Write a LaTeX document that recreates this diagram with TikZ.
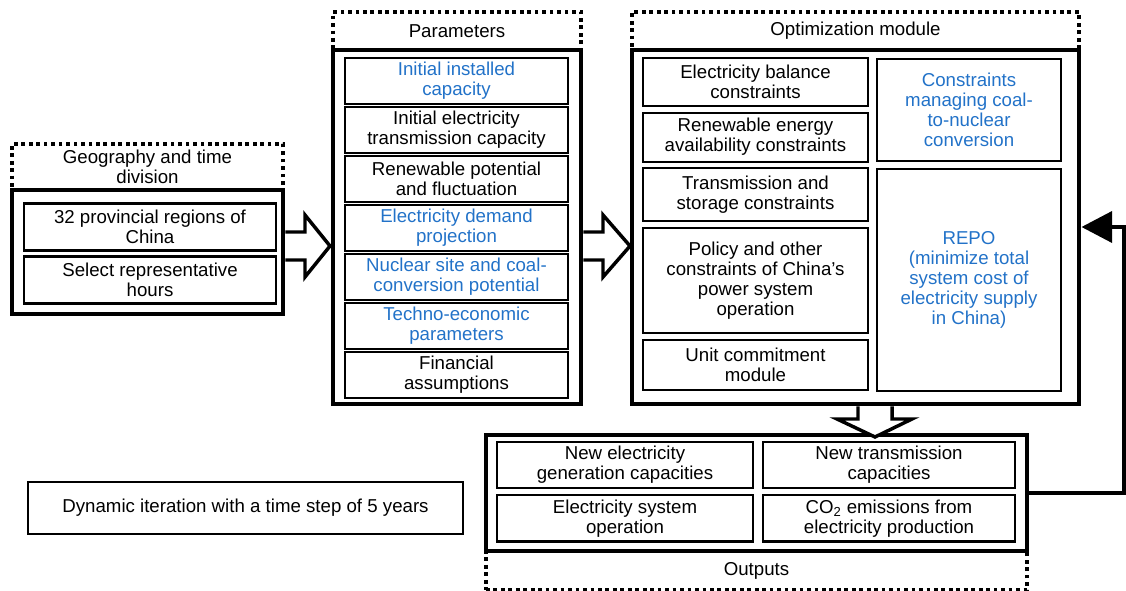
\documentclass[tikz,border=0pt]{standalone}
\usepackage{fontspec}
\setmainfont{Liberation Sans}
\usepackage{xcolor}
\usetikzlibrary{positioning,fit,arrows.meta}
\definecolor{bluetxt}{RGB}{34,114,200}
\tikzset{
  hdr/.style={draw, line width=2.6pt, dash pattern=on 2.8pt off 2.8pt,
              inner sep=0pt, outer sep=0pt, align=center},
  frame/.style={draw, line width=3.6pt, inner sep=0pt},
  item/.style={draw, line width=1.6pt, inner sep=1pt, outer sep=0pt, align=center},
  paritem/.style={item, minimum width=167.25pt, minimum height=34.5pt},
  geoitem/.style={item, minimum width=189pt, minimum height=35.25pt},
  optitem/.style={item, minimum width=168.75pt},
  optside/.style={item, minimum width=138pt},
  outitem/.style={item, minimum height=34.75pt},
  hi/.style={text=bluetxt},
  barrow/.style={draw, line width=2.6pt, fill=white, line join=miter},
  fb/.style={line width=3.6pt, -{Triangle[length=23pt, width=23pt]}}
}

\begin{document}
\begin{tikzpicture}[x=0.75pt, y=-0.75pt, font=\fontsize{14}{15}\selectfont,
                    node distance=2.3pt]
  \useasboundingbox (0,0) rectangle (1126,591);

  % geography
  \node[hdr, minimum width=203.25pt, minimum height=34.5pt] (geohdr) at (147.5,167)
    {Geography and time\\division};
  \node[frame, fit={(12,190) (283,314)}] (geobox) {};
  \node[geoitem] (g1) at (150,227) {32 provincial regions of\\China};
  \node[geoitem, below=4.5pt of g1] (g2) {Select representative\\hours};

  % parameters
  \node[hdr, minimum width=186pt, minimum height=28.5pt] (parhdr) at (457,31) {Parameters};
  \node[frame, fit={(333,50) (581,404)}] (parbox) {};
  \node[paritem, hi] (p1) at (456.5,80.7) {Initial installed\\capacity};
  \node[paritem, below=of p1] (p2) {Initial electricity\\transmission capacity};
  \node[paritem, below=of p2] (p3) {Renewable potential\\and fluctuation};
  \node[paritem, hi, below=of p3] (p4) {Electricity demand\\projection};
  \node[paritem, hi, below=of p4] (p5) {Nuclear site and coal-\\conversion potential};
  \node[paritem, hi, below=of p5] (p6) {Techno-economic\\parameters};
  \node[paritem, below=of p6] (p7) {Financial\\assumptions};

  % optimization module
  \node[hdr, minimum width=335.25pt, minimum height=28.5pt] (opthdr) at (855.5,31)
    {Optimization module};
  \node[frame, fit={(632,50) (1079,404)}] (optbox) {};
  \node[optitem, minimum height=36pt] (o1) at (755.5,82) {Electricity balance\\constraints};
  \node[optitem, minimum height=36.75pt, below=5pt of o1] (o2) {Renewable energy\\availability constraints};
  \node[optitem, minimum height=39.75pt, below=5pt of o2] (o3) {Transmission and\\storage constraints};
  \node[optitem, minimum height=78.75pt, below=5pt of o3] (o4) {Policy and other\\constraints of China's\\power system\\operation};
  \node[optitem, minimum height=37.5pt, below=5pt of o4] (o5) {Unit commitment\\module};
  \node[optside, hi, minimum height=76.5pt] (c1) at (969,110) {Constraints\\managing coal-\\to-nuclear\\conversion};
  \node[optside, hi, minimum height=166.5pt, below=6pt of c1] (c2) {REPO\\(minimize total\\system cost of\\electricity supply\\in China)};

  % outputs
  \node[hdr, minimum width=405.75pt, minimum height=29.25pt] (outhdr) at (756.5,570.5) {Outputs};
  \node[frame, fit={(486,435) (1027,551)}] (outbox) {};
  \node[outitem, minimum width=192pt] (n1) at (625,465) {New electricity\\generation capacities};
  \node[outitem, minimum width=189pt, right=7.5pt of n1] (n2) {New transmission\\capacities};
  \node[outitem, minimum width=192pt, below=5.25pt of n1] (n3) {Electricity system\\operation};
  \node[outitem, minimum width=189pt, right=7.5pt of n3] (n4) {CO\textsubscript{2} emissions from\\electricity production};

  \node[draw, line width=1.2pt, minimum width=326.25pt, minimum height=39pt] (dyn) at (245.5,508)
    {Dynamic iteration with a time step of 5 years};

  % block arrows
  \draw[barrow] (geobox.east |- 0,232) -- (305,232) -- (305,215) -- (330,246)
    -- (305,277) -- (305,260) -- (geobox.east |- 0,260);
  \draw[barrow] (parbox.east |- 0,232) -- (603,232) -- (603,215) -- (630,246)
    -- (603,277) -- (603,260) -- (parbox.east |- 0,260);
  \draw[barrow] (optbox.south -| 858,0) -- (858,419) -- (837,419) -- (875,437)
    -- (912,419) -- (892,419) -- (optbox.south -| 892,0);

  % feedback
  \draw[fb] (outbox.east) -- ++(95,0) |- (optbox.east);
\end{tikzpicture}
\end{document}
